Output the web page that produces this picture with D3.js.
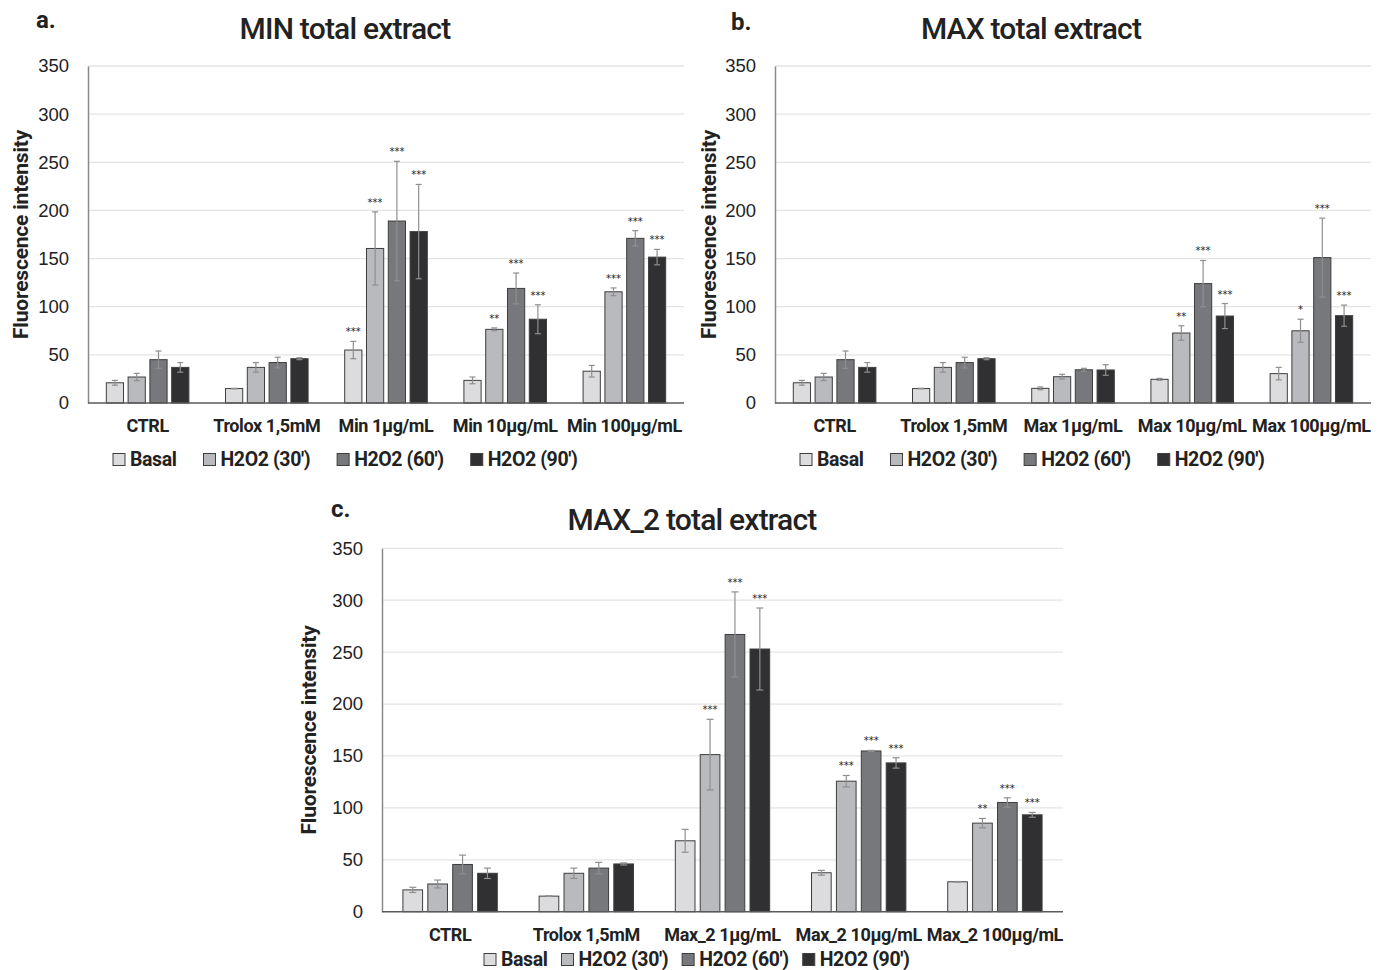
<!DOCTYPE html>
<html>
<head>
<meta charset="utf-8">
<script src="https://cdn.jsdelivr.net/npm/d3@7"></script>
<style>
  html, body { margin: 0; padding: 0; background: #fff; }
  svg { display: block; }
  text { font-family: "Roboto", "Liberation Sans", sans-serif; fill: #222; }
</style>
</head>
<body>
<svg id="chart" width="1386" height="970"></svg>
<script>
// ---------- DATA ----------
const series = ["Basal", "H2O2 (30')", "H2O2 (60')", "H2O2 (90')"];
const yTicks = [0, 50, 100, 150, 200, 250, 300, 350];

const catsA = ["CTRL", "Trolox 1,5mM", "Min 1µg/mL", "Min 10µg/mL", "Min 100µg/mL"];
const meansA = [
  [21, 15, 55, 23.5, 33],
  [27, 37, 160.5, 76.5, 115.5],
  [45, 42, 189, 119, 171],
  [37, 46, 178, 87, 151.5]
];
const errA = [
  [2.5, 0.3, 9, 3.5, 6],
  [3.8, 5, 38, 1.5, 4],
  [9, 5.5, 62, 16, 8],
  [5, 1, 49, 15, 8]
];
const starsA = [
  ["", "", "***", "", ""],
  ["", "", "***", "**", "***"],
  ["", "", "***", "***", "***"],
  ["", "", "***", "***", "***"]
];

const catsB = ["CTRL", "Trolox 1,5mM", "Max 1µg/mL", "Max 10µg/mL", "Max 100µg/mL"];
const meansB = [
  [21, 15, 15.2, 24.6, 30.5],
  [27, 37, 27.3, 72.7, 75],
  [45, 42, 34.5, 124, 151],
  [37, 46, 34.3, 90.3, 90.7]
];
const errB = [
  [2.5, 0.3, 1.5, 1, 6.5],
  [3.8, 5, 2.5, 7.5, 12],
  [9, 5.5, 1.5, 24, 41],
  [5, 1, 5.5, 13, 11]
];
const starsB = [
  ["", "", "", "", ""],
  ["", "", "", "**", "*"],
  ["", "", "", "***", "***"],
  ["", "", "", "***", "***"]
];

const catsC = ["CTRL", "Trolox 1,5mM", "Max_2 1µg/mL", "Max_2 10µg/mL", "Max_2 100µg/mL"];
const meansC = [
  [21, 15, 68.3, 37.5, 28.8],
  [26.7, 37, 151.3, 125.7, 85.3],
  [45.5, 42, 267, 154.8, 105.2],
  [37, 46, 253, 143.3, 93.3]
];
const errC = [
  [2.5, 0.3, 11, 2.3, 0.3],
  [3.8, 5, 34, 5.5, 4.5],
  [9, 5.5, 41, 0.5, 4.5],
  [5, 1, 39.5, 5, 2.3]
];
const starsC = [
  ["", "", "", "", ""],
  ["", "", "***", "***", "**"],
  ["", "", "***", "***", "***"],
  ["", "", "***", "***", "***"]
];

// ---------- STYLE ----------
const fills = ["#dcdcde", "#b9babd", "#77787c", "#303032"];

const svg = d3.select("#chart");

function drawPanel(cfg) {
  const { letter, title, cats, means, errs, stars, left, right, top, bottom,
          letterX, letterY, titleX, titleY, yLabX, xLabY, legY, legX, legGap, capW } = cfg;
  const g = svg.append("g");

  const y = d3.scaleLinear().domain([0, 350]).range([bottom, top]);
  const x0 = d3.scaleBand().domain(cats).range([left, right]).padding(0);
  const x1 = d3.scaleBand().domain(series).range([0, x0.bandwidth()])
    .paddingInner(0.21).paddingOuter(0.84);

  // gridlines
  g.append("g").selectAll("line").data(yTicks.filter(t => t > 0)).join("line")
    .attr("x1", left).attr("x2", right)
    .attr("y1", d => y(d)).attr("y2", d => y(d))
    .attr("stroke", "#e4e4e4").attr("stroke-width", 1.3);

  // y axis
  const ya = g.append("g").attr("transform", `translate(${left},0)`)
    .call(d3.axisLeft(y).tickValues(yTicks).tickSize(0).tickPadding(19));
  ya.select(".domain").attr("stroke", "#8a8a8a").attr("stroke-width", 1.5);
  ya.selectAll("text").style("font-family", "'Liberation Sans', Arial, sans-serif")
    .style("font-size", "18.5px").attr("fill", "#2a2a2a");

  // bars
  series.forEach((s, si) => {
    const sg = g.append("g");
    const rows = cats.map((c, ci) => ({ c, v: means[si][ci], e: errs[si][ci], st: stars[si][ci] }));
    sg.selectAll("rect").data(rows).join("rect")
      .attr("x", d => x0(d.c) + x1(s))
      .attr("y", d => y(d.v))
      .attr("width", x1.bandwidth())
      .attr("height", d => y(0) - y(d.v))
      .attr("fill", fills[si])
      .attr("stroke", "#3e3e3e").attr("stroke-width", 1);

    const cx = d => x0(d.c) + x1(s) + x1.bandwidth() / 2;
    // error bars
    sg.selectAll("line.eb").data(rows).join("line").attr("class", "eb")
      .attr("x1", cx).attr("x2", cx)
      .attr("y1", d => y(d.v + d.e)).attr("y2", d => y(d.v - d.e))
      .attr("stroke", "#8f8f8f").attr("stroke-width", 1.2);
    sg.selectAll("line.ct").data(rows).join("line").attr("class", "ct")
      .attr("x1", d => cx(d) - capW / 2).attr("x2", d => cx(d) + capW / 2)
      .attr("y1", d => y(d.v + d.e)).attr("y2", d => y(d.v + d.e))
      .attr("stroke", "#8f8f8f").attr("stroke-width", 1.2);
    sg.selectAll("line.cb").data(rows).join("line").attr("class", "cb")
      .attr("x1", d => cx(d) - capW / 2).attr("x2", d => cx(d) + capW / 2)
      .attr("y1", d => y(d.v - d.e)).attr("y2", d => y(d.v - d.e))
      .attr("stroke", "#8f8f8f").attr("stroke-width", 1.2);
    // stars
    sg.selectAll("text.st").data(rows.filter(d => d.st)).join("text").attr("class", "st")
      .attr("x", cx).attr("y", d => y(d.v + d.e) - 6)
      .attr("text-anchor", "middle")
      .style("font-family", "'DejaVu Sans', sans-serif")
      .style("font-size", "10px").attr("fill", "#444")
      .text(d => d.st);
  });

  // x axis baseline
  g.append("line").attr("x1", left).attr("x2", right)
    .attr("y1", y(0)).attr("y2", y(0))
    .attr("stroke", "#5a5a5a").attr("stroke-width", 1.5);

  // x labels
  g.append("g").selectAll("text").data(cats).join("text")
    .attr("x", d => x0(d) + x0.bandwidth() / 2).attr("y", xLabY)
    .attr("text-anchor", "middle")
    .style("font-size", "18px").style("font-weight", 700)
    .style("letter-spacing", "-0.4px")
    .text(d => d);

  // y label
  g.append("text")
    .attr("transform", `translate(${yLabX},${(top + bottom) / 2}) rotate(-90)`)
    .attr("text-anchor", "middle").attr("dy", "0.35em")
    .style("font-size", "21px").style("font-weight", 700)
    .style("letter-spacing", "-0.2px")
    .text("Fluorescence intensity");

  // title
  g.append("text").attr("x", titleX).attr("y", titleY).attr("text-anchor", "middle")
    .style("font-size", "30px").style("font-weight", 500).style("letter-spacing", "-0.8px")
    .text(title);

  // panel letter
  g.append("text").attr("x", letterX).attr("y", letterY)
    .style("font-size", "24px").style("font-weight", 700)
    .text(letter);

  // legend
  const lg = g.append("g");
  let lx = legX;
  series.forEach((s, si) => {
    lg.append("rect").attr("x", lx).attr("y", legY - 12.5).attr("width", 12).attr("height", 12)
      .attr("fill", fills[si]).attr("stroke", "#3e3e3e").attr("stroke-width", 1);
    const t = lg.append("text").attr("x", lx + 17).attr("y", legY)
      .style("font-size", "19.5px").style("font-weight", 700).style("letter-spacing", "-0.4px")
      .text(s);
    lx += 17 + t.node().getComputedTextLength() + legGap;
  });
}

drawPanel({ letter: "a.", title: "MIN total extract", cats: catsA, means: meansA, errs: errA, stars: starsA,
  left: 88, right: 684, top: 66, bottom: 403,
  letterX: 36, letterY: 28, titleX: 345, titleY: 39, yLabX: 21, xLabY: 432,
  legY: 466, legX: 113, legGap: 27, capW: 6 });

drawPanel({ letter: "b.", title: "MAX total extract", cats: catsB, means: meansB, errs: errB, stars: starsB,
  left: 775, right: 1371, top: 66, bottom: 403,
  letterX: 731, letterY: 30, titleX: 1031, titleY: 39, yLabX: 709, xLabY: 432,
  legY: 466, legX: 800, legGap: 27, capW: 6 });

drawPanel({ letter: "c.", title: "MAX_2 total extract", cats: catsC, means: meansC, errs: errC, stars: starsC,
  left: 382, right: 1063, top: 548.3, bottom: 911.7,
  letterX: 331, letterY: 517, titleX: 692, titleY: 530, yLabX: 309, xLabY: 941,
  legY: 966, legX: 484, legGap: 14, capW: 7 });
</script>
</body>
</html>
